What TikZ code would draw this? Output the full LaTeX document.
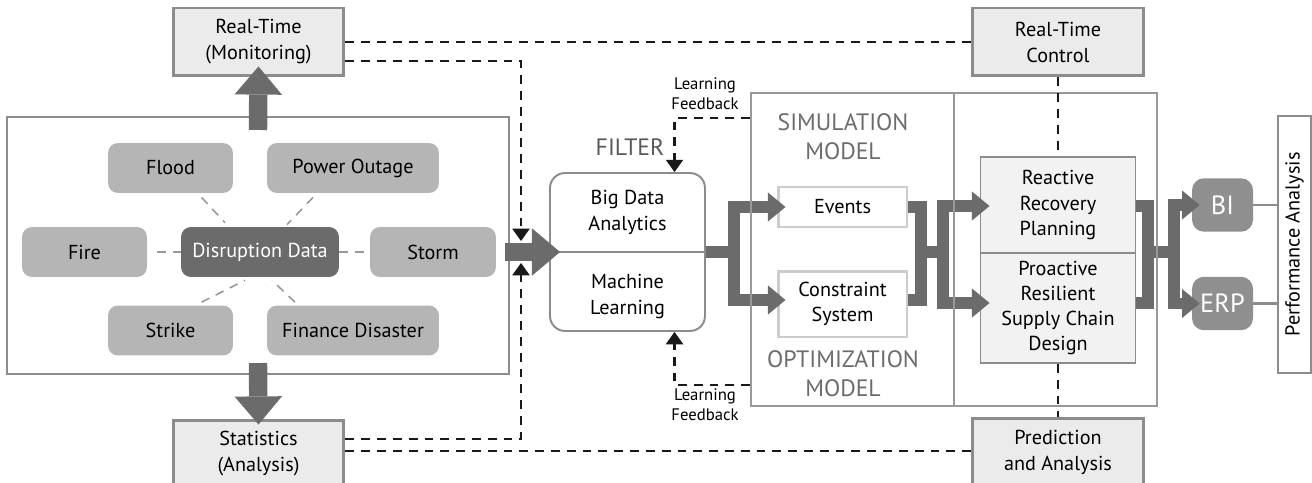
\documentclass[tikz,border=0pt]{standalone}
\usepackage{fontspec}
\setmainfont{PT Sans}
\usetikzlibrary{calc,arrows.meta,positioning}

\tikzset{
	infobox/.style={draw=black!45, line width=1.7pt, fill=black!8, minimum width=3.42cm, minimum height=1.36cm, align=center, font=\fontsize{11.5}{14.8}\selectfont},
	hazard/.style={fill=black!29, rounded corners=0.2cm, minimum height=1cm, font=\fontsize{11.5}{13}\selectfont},
	spoke/.style={draw=black!40, line width=0.9pt, dash pattern=on 5pt off 4pt},
	modelbox/.style={draw=black!20, line width=1.7pt, fill=white, minimum width=2.58cm, align=center, font=\fontsize{11.5}{14.3}\selectfont},
	planbox/.style={draw=black!45, line width=1.1pt, fill=black!5, minimum width=3.1cm, align=center, font=\fontsize{11.5}{14.3}\selectfont},
	sysbox/.style={fill=black!44, text=white, rounded corners=0.24cm, minimum width=1.22cm, minimum height=1.07cm, font=\fontsize{15}{17}\selectfont},
	bigarrow/.style={draw=black!58, line width=10.5pt, -{Triangle[width=27pt,length=16pt,line width=0pt]}},
	garrow/.style={draw=black!58, line width=6.3pt, -{Triangle[width=16.5pt,length=10pt,line width=0pt]}},
	gbar/.style={draw=black!58, line width=6.3pt},
	dline/.style={draw=black!90, line width=1.3pt, dash pattern=on 5pt off 4pt},
	fbarrow/.style={dline, -{Triangle[width=10pt,length=7pt,line width=0pt]}},
	fbtext/.style={align=center, font=\fontsize{9.5}{11.4}\selectfont},
	modeltext/.style={align=center, text=black!58, font=\fontsize{13.5}{16.5}\selectfont}
}

\begin{document}
\begin{tikzpicture}[x=0.02cm, y=-0.02cm]
		%%%%% START %%%%%
		\useasboundingbox (0, 0) rectangle (1312, 483);
		\clip (0, 0) rectangle (1312, 483);
		
		\node[draw=black!45, line width=1.2pt, minimum width=10.04cm, minimum height=5.14cm] (srcbox) at (258, 245.5) {};
		\node[hazard, minimum width=2.5cm] (flood) at (170.5, 168) {Flood};
		\node[hazard, minimum width=3.44cm] (power) at (353, 168) {Power Outage};
		\node[hazard, minimum width=2.5cm] (fire) at (84.5, 252) {Fire};
		\node[hazard, fill=black!58, text=white, minimum width=3.16cm] (disrupt) at (260, 252) {Disruption Data};
		\node[hazard, minimum width=2.52cm] (storm) at (433, 252) {Storm};
		\node[hazard, minimum width=2.5cm] (strike) at (170.5, 330.5) {Strike};
		\node[hazard, minimum width=3.44cm] (finance) at (353, 330.5) {Finance Disaster};
		
		\draw[spoke] ($(flood.south)+(31, 4)$) -- ($(disrupt.north)+(-35, -4)$);
		\draw[spoke] ($(power.south)+(-40, 4)$) -- ($(disrupt.north)+(27, -2)$);
		\draw[spoke] ($(strike.north)+(31, -3)$) -- ($(disrupt.south)+(-15, 3)$);
		\draw[spoke] ($(finance.north)+(-58, -3)$) -- ($(disrupt.south)+(12, 3)$);
		\draw[spoke] ($(fire.east)+(10, 0)$) -- (disrupt.west);
		\draw[spoke] (disrupt.east) -- ($(storm.west)+(-3, 0)$);
		
		\node[infobox] (monitor) at (258.5, 42) {Real-Time\\(Monitoring)};
		\node[infobox] (stats) at (258.5, 454) {Statistics\\(Analysis)};
		\node[infobox] (control) at (1058, 42) {Real-Time\\Control};
		\node[infobox] (predict) at (1058, 452) {Prediction\\and Analysis};
		
		\draw[bigarrow] ($(srcbox.north)+(0, 14)$) -- ($(monitor.south)+(0, -11)$);
		\draw[bigarrow] ($(srcbox.south)+(0, -12)$) -- ($(stats.north)+(0, 6)$);
		
		\node[draw=black!45, line width=1.1pt, rounded corners=0.3cm, minimum width=3.1cm, minimum height=3.16cm] (bigdata) at (627.5, 252) {};
		\draw[black!45, line width=1.1pt] (bigdata.west) -- (bigdata.east);
		\node[align=center, font=\fontsize{11.5}{14.8}\selectfont] (bdtop) at ($(bigdata.center)+(0, -40)$) {Big Data\\Analytics};
		\node[align=center, font=\fontsize{11.5}{14.8}\selectfont] (bdbot) at ($(bigdata.center)+(0, 44)$) {Machine\\Learning};
		\node[text=black!65, font=\fontsize{13.5}{16}\selectfont] (filter) at (630, 147) {FILTER};
		
		\draw[bigarrow] ($(srcbox.east |- bigdata.west)+(-5, 0)$) -- ($(bigdata.west)+(11, 0)$);
		
		\node[modelbox, minimum height=0.8cm] (events) at (842.5, 207) {Events};
		\node[modelbox, minimum height=1.32cm] (constraint) at (842.5, 304) {Constraint\\System};
		\node[planbox, minimum height=1.92cm] (react) at (1058, 205) {Reactive\\Recovery\\Planning};
		\node[planbox, minimum height=2.2cm] (proact) at (1058, 308) {Proactive\\Resilient\\Supply Chain\\Design};
		\node[sysbox] (bi) at (1222.5, 205) {BI};
		\node[sysbox] (erp) at (1222.5, 303.5) {ERP};
		\node[draw=black!45, line width=1.1pt, fill=white, minimum width=5.14cm, minimum height=0.66cm, rotate=90, font=\fontsize{11.5}{13}\selectfont] (perf) at (1294.5, 244.5) {Performance Analysis};
		\draw[black!45, line width=1.2pt] (bi.east) -- (bi.east -| perf.north);
		\draw[black!45, line width=1.2pt] (erp.east) -- (erp.east -| perf.north);
		
		\coordinate (fork1) at (734, 252);
		\draw[gbar] (bigdata.east) -- (fork1);
		\draw[garrow] (fork1) |- ($(events.west)+(9, 0)$);
		\draw[garrow] (fork1) |- ($(constraint.west)+(9, -4)$);
		
		\coordinate (join1) at (921, 252);
		\coordinate (fork2) at (943, 252);
		\draw[gbar] (events.east) -| (join1);
		\draw[gbar] ($(constraint.east)+(0, -4)$) -| (join1);
		\draw[gbar] (join1) -- (fork2);
		\draw[garrow] (fork2) |- ($(react.west)+(10, 1)$);
		\draw[garrow] (fork2) |- ($(proact.west)+(10, -5)$);
		
		\coordinate (join2) at (1148, 252);
		\coordinate (fork3) at (1174, 252);
		\draw[gbar] ($(react.east)+(0, 1)$) -| (join2);
		\draw[gbar] ($(proact.east)+(0, -5)$) -| (join2);
		\draw[gbar] (join2) -- (fork3);
		\draw[garrow] (fork3) |- ($(bi.west)+(8, 0)$);
		\draw[garrow] (fork3) |- ($(erp.west)+(8, 0)$);
		
		\node[draw=black!40, line width=1.1pt, minimum width=8.12cm, minimum height=6.26cm] (simbox) at (954, 249.5) {};
		\draw[black!40, line width=1.1pt] (simbox.north) -- (simbox.south);
		\node[modeltext] (simlabel) at (843, 137) {SIMULATION\\MODEL};
		\node[modeltext] (optlabel) at (843, 373.5) {OPTIMIZATION\\MODEL};
		
		\node[fbtext] (fbtop) at (705, 94) {Learning\\Feedback};
		\node[fbtext] (fbbot) at (705, 405) {Learning\\Feedback};
		\draw[fbarrow] ($(simbox.north west)+(0, 26)$) -| ($(bigdata.north)+(47, 0)$);
		\draw[fbarrow] ($(simbox.south west)+(0, -22)$) -| ($(bigdata.south)+(47, 0)$);
		
		\coordinate (intop) at (521, 241);
		\coordinate (inbot) at (521, 263);
		\draw[fbarrow] ($(monitor.east)+(0, 19)$) -| (intop);
		\draw[fbarrow] ($(stats.east)+(0, -15)$) -| (inbot);
		\draw[dline] (monitor.east) -- (control.west);
		\draw[dline] ($(stats.east)+(0, -3)$) -- ($(predict.west)+(0, -1)$);
		\draw[dline] (control.south) -- (react.north);
		\draw[dline] (proact.south) -- (predict.north);
		
		%%%%% END %%%%%
	\end{tikzpicture}
\end{document}
